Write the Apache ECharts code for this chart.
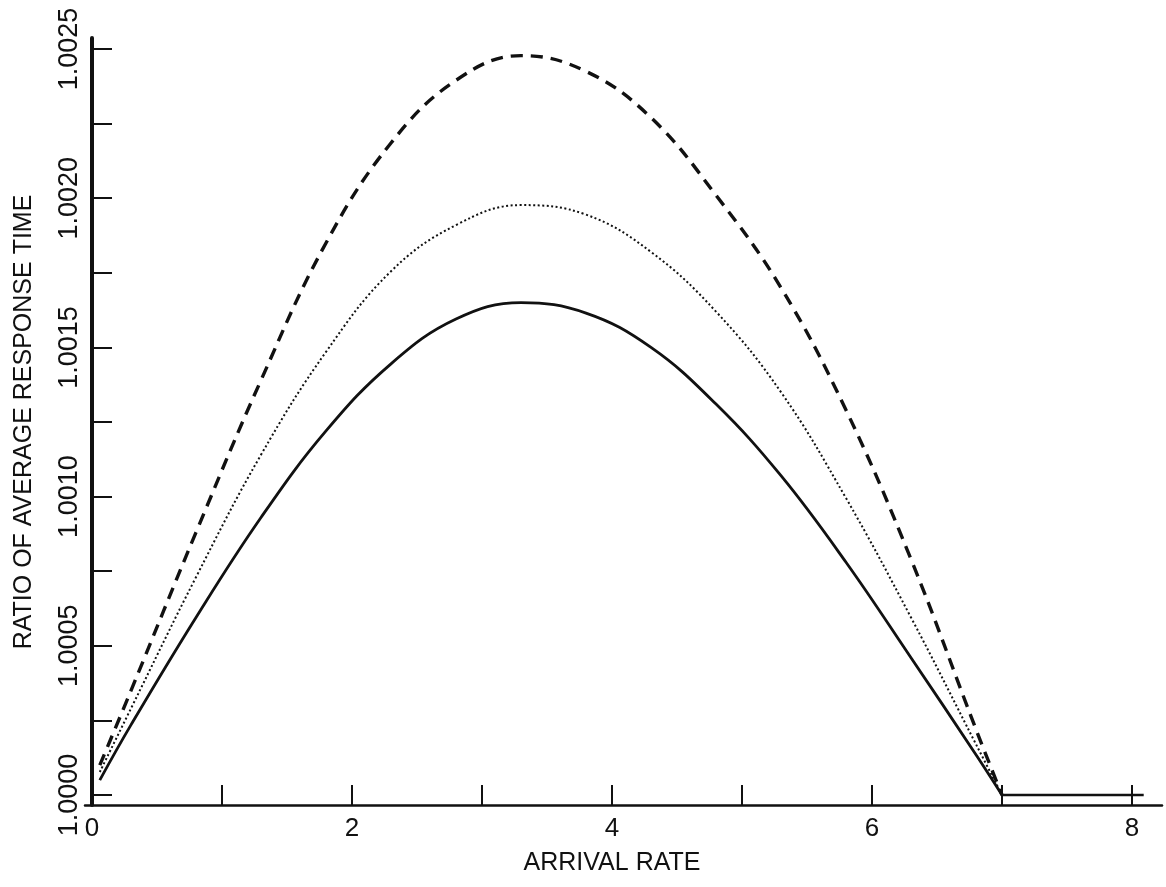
<!DOCTYPE html>
<html>
<head>
<meta charset="utf-8">
<script src="https://cdn.jsdelivr.net/npm/echarts@6/dist/echarts.min.js"></script>
<style>
html,body{margin:0;padding:0;background:#fff;}
#chart{width:1166px;height:887px;}
</style>
</head>
<body>
<div id="chart"></div>
<script>
// ---- data ----
var arrivalRate = [0.06, 0.3, 0.8, 1.3, 1.8, 2.3, 2.8, 3.3, 3.8, 4.3, 4.8, 5.3, 5.8, 6.3, 6.8, 7];
var solidRatio  = [1.000050, 1.000235, 1.000595, 1.000930, 1.001220, 1.001445, 1.001595, 1.001650, 1.001615, 1.001500, 1.001310, 1.001070, 1.000780, 1.000460, 1.000135, 1.000000];
var dottedRatio = [1.000077, 1.000290, 1.000730, 1.001140, 1.001485, 1.001755, 1.001910, 1.001977, 1.001945, 1.001820, 1.001620, 1.001350, 1.000995, 1.000595, 1.000170, 1.000000];
var dashedRatio = [1.000100, 1.000350, 1.000880, 1.001390, 1.001850, 1.002185, 1.002395, 1.002478, 1.002425, 1.002270, 1.002010, 1.001700, 1.001290, 1.000790, 1.000220, 1.000000];
var tailRate  = [7, 8.09];
var tailRatio = [1.0000, 1.0000];
var xTickLabels = ['0', '2', '4', '6', '8'];
var yTickLabels = ['1.0000', '1.0005', '1.0010', '1.0015', '1.0020', '1.0025'];
var xTitle = 'ARRIVAL RATE';
var yTitle = 'RATIO OF AVERAGE RESPONSE TIME';

function pairs(xs, ys){ return xs.map(function(x,i){ return [x, ys[i]]; }); }

var FONT = 'Liberation Sans';
var INK = '#111';

var chart = echarts.init(document.getElementById('chart'), null, {renderer:'canvas'});
var option = {
  animation: false,
  backgroundColor: '#fff',
  grid: [
    // grid 0: data + axis lines (extends past the tick range like the plotter frame)
    {left: 85, right: 4, top: 38, bottom: 82},
    // grid 1: ticks and labels
    {left: 92, right: 34, top: 49, bottom: 92}
  ],
  xAxis: [
    {gridIndex: 0, type: 'value', min: -0.0538, max: 8.2308,
     axisLine: {show: true, lineStyle: {color: INK, width: 2.5}},
     axisTick: {show: false}, axisLabel: {show: false}, splitLine: {show: false}},
    {gridIndex: 1, type: 'value', min: 0, max: 8, interval: 1, offset: 10,
     axisLine: {show: false},
     axisTick: {show: true, inside: true, length: 20, lineStyle: {color: INK, width: 2}},
     axisLabel: {show: true, margin: 11, fontFamily: FONT, fontSize: 26, color: INK,
       formatter: function(v){ var i = xTickLabels.indexOf(String(v)); return i >= 0 ? xTickLabels[i] : ''; }},
     splitLine: {show: false},
     name: xTitle, nameLocation: 'middle', nameGap: 46,
     nameTextStyle: {fontFamily: FONT, fontSize: 25, color: INK}}
  ],
  yAxis: [
    {gridIndex: 0, type: 'value', min: 0.9999665, max: 1.0025369,
     axisLine: {show: true, lineStyle: {color: INK, width: 4}},
     axisTick: {show: false}, axisLabel: {show: false}, splitLine: {show: false}},
    {gridIndex: 1, type: 'value', min: 1.0000, max: 1.0025, interval: 0.00025, offset: 7,
     axisLine: {show: false},
     axisTick: {show: true, inside: true, length: 20, lineStyle: {color: INK, width: 2}},
     axisLabel: {show: true, rotate: 90, margin: 2, fontFamily: FONT, fontSize: 27, color: INK,
       formatter: function(v){ var s = v.toFixed(4); return yTickLabels.indexOf(s) >= 0 ? s : ''; }},
     splitLine: {show: false},
     name: yTitle, nameLocation: 'middle', nameGap: 48,
     nameTextStyle: {fontFamily: FONT, fontSize: 25, color: INK}}
  ],
  series: [
    {type: 'line', xAxisIndex: 0, yAxisIndex: 0, data: pairs(arrivalRate, dashedRatio),
     smooth: 0.4, showSymbol: false, symbol: 'none',
     lineStyle: {color: INK, width: 3.4, type: [12, 8]}},
    {type: 'line', xAxisIndex: 0, yAxisIndex: 0, data: pairs(arrivalRate, dottedRatio),
     smooth: 0.4, showSymbol: false, symbol: 'none',
     lineStyle: {color: INK, width: 2, type: [2, 2.5]}},
    {type: 'line', xAxisIndex: 0, yAxisIndex: 0, data: pairs(arrivalRate, solidRatio),
     smooth: 0.4, showSymbol: false, symbol: 'none',
     lineStyle: {color: INK, width: 2.8, type: 'solid'}},
    {type: 'line', xAxisIndex: 0, yAxisIndex: 0, data: pairs(tailRate, tailRatio),
     showSymbol: false, symbol: 'none',
     lineStyle: {color: INK, width: 2.4, type: 'solid'}}
  ]
};
chart.setOption(option);
</script>
</body>
</html>
